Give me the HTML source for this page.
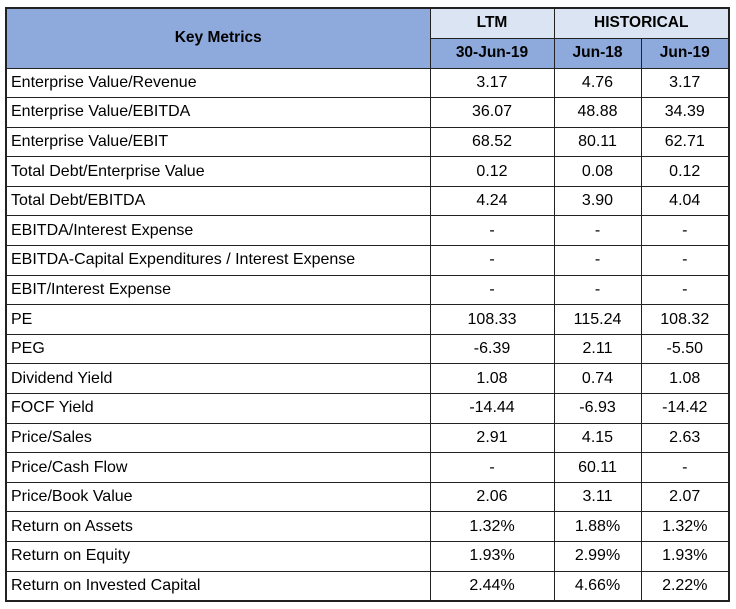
<!DOCTYPE html>
<html><head><meta charset="utf-8"><style>
body{margin:0;background:#fff;width:736px;height:609px;overflow:hidden}
table{position:absolute;left:5px;top:7px;border-collapse:collapse;font-family:"Liberation Sans",sans-serif;font-size:16px;color:#000;table-layout:fixed;border:2px solid #222}
td,th{border:1.5px solid #222;padding:0;height:28px}
th{font-weight:bold;font-size:15.5px}
td{text-align:center}
td.l{text-align:left;padding-left:4px}
.hk{background:#8eaadc}
.h1{background:#dae4f2}
.h2{background:#8eaadc}
</style></head><body>
<table>
<colgroup><col style="width:424px"><col style="width:124px"><col style="width:87px"><col style="width:88px"></colgroup>
<tr style="height:30px"><th class="hk" rowspan="2">Key Metrics</th><th class="h1">LTM</th><th class="h1" colspan="2">HISTORICAL</th></tr>
<tr style="height:30px"><th class="h2">30-Jun-19</th><th class="h2">Jun-18</th><th class="h2">Jun-19</th></tr>
<tbody id="tb"></tbody>
</table>
<script>
const metrics=["Enterprise Value/Revenue","Enterprise Value/EBITDA","Enterprise Value/EBIT","Total Debt/Enterprise Value","Total Debt/EBITDA","EBITDA/Interest Expense","EBITDA-Capital Expenditures / Interest Expense","EBIT/Interest Expense","PE","PEG","Dividend Yield","FOCF Yield","Price/Sales","Price/Cash Flow","Price/Book Value","Return on Assets","Return on Equity","Return on Invested Capital"];
const ltm=["3.17","36.07","68.52","0.12","4.24","-","-","-","108.33","-6.39","1.08","-14.44","2.91","-","2.06","1.32%","1.93%","2.44%"];
const jun18=["4.76","48.88","80.11","0.08","3.90","-","-","-","115.24","2.11","0.74","-6.93","4.15","60.11","3.11","1.88%","2.99%","4.66%"];
const jun19=["3.17","34.39","62.71","0.12","4.04","-","-","-","108.32","-5.50","1.08","-14.42","2.63","-","2.07","1.32%","1.93%","2.22%"];
const tb=document.getElementById('tb');
metrics.forEach((m,i)=>{
 const tr=document.createElement('tr');
 tr.style.height='29.6px';
 
 
 [m,ltm[i],jun18[i],jun19[i]].forEach((v,j)=>{
  const td=document.createElement('td');
  td.textContent=v;
  if(j===0)td.className='l';
  
  
  tr.appendChild(td);
 });
 tb.appendChild(tr);
});
</script>
</body></html>
